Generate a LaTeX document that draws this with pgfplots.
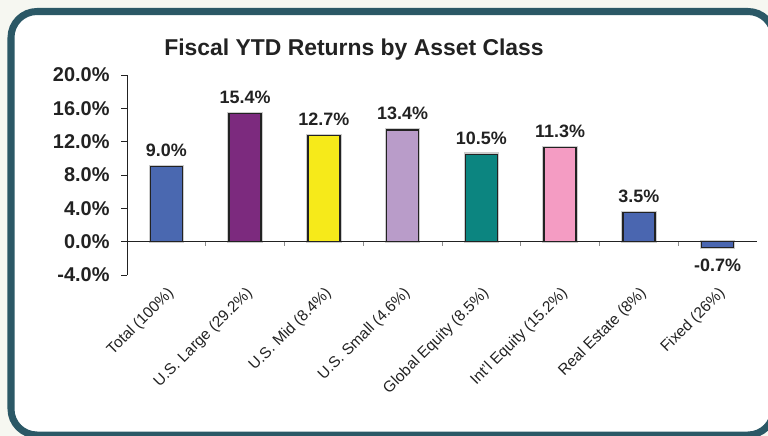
\documentclass[border=0pt]{standalone}
\usepackage{pgfplots}
\pgfplotsset{compat=1.18}
\usepackage{fontspec}
\setmainfont{Liberation Sans}
\definecolor{framec}{RGB}{43,88,102}
\definecolor{txt}{RGB}{34,34,34}
\definecolor{cTotal}{RGB}{74,104,176}
\definecolor{cLarge}{RGB}{124,42,126}
\definecolor{cMid}{RGB}{246,234,26}
\definecolor{cSmall}{RGB}{185,156,201}
\definecolor{cGlobal}{RGB}{12,133,128}
\definecolor{cIntl}{RGB}{244,156,195}
\definecolor{cReal}{RGB}{74,102,176}
\definecolor{bg}{RGB}{246,247,241}
\pgfplotsset{
  mybar/.style={fill=#1, draw=txt, line width=1.3bp,
    preaction={draw=black!20, line width=3.6bp}},
}

\begin{document}
\begin{tikzpicture}
\begin{scope}[x=1bp,y=-1bp]
  \fill[bg] (0,0) rectangle (768,436);
  \begin{scope}
    \clip (0,0) rectangle (768,436);
    \draw[framec, line width=7bp, fill=white, rounded corners=26bp] (11,11.5) rectangle (774,435);
  \end{scope}
  \node[font=\fontsize{23}{27}\selectfont\bfseries, text=txt, anchor=base] at (354,55) {Fiscal YTD Returns by Asset Class};
\end{scope}

\begin{axis}[
  at={(127bp,-275bp)}, anchor=south west,
  scale only axis, width=630bp, height=200bp,
  xmin=-0.5, xmax=7.5, ymin=-4, ymax=20,
  axis y line*=left, axis x line*=bottom,
  x axis line style={draw=none},
  y axis line style={txt, line width=0.8bp},
  ytick={-4,0,4,8,12,16,20},
  ytick style={txt, line width=0.8bp},
  tick align=outside, major tick length=6bp,
  /pgf/number format/assume math mode=true,
  yticklabel={\pgfmathprintnumber[fixed,fixed zerofill,precision=1]{\tick}\%},
  yticklabel style={font=\fontsize{20}{24}\selectfont\bfseries, text=txt, xshift=-8bp},
  xtick={0,...,7},
  xticklabels={Total (100\%), U.S. Large (29.2\%), U.S. Mid (8.4\%), U.S. Small (4.6\%), Global Equity (8.5\%), Int'l Equity (15.2\%), Real Estate (8\%), Fixed (26\%)},
  x tick style={draw=none},
  xticklabel style={rotate=45, anchor=north east, font=\fontsize{15.5}{18}\selectfont, text=txt},
  ybar, bar width=32bp, bar shift=0pt,
  nodes near coords={\pgfmathprintnumber[fixed,fixed zerofill,precision=1]{\pgfplotspointmeta}\%},
  every node near coord/.append style={font=\fontsize{18}{22}\selectfont\bfseries, text=txt, yshift=6bp},
  clip=false,
]
\addplot[mybar=cTotal] coordinates {(0,9.0)};
\addplot[mybar=cLarge] coordinates {(1,15.4)};
\addplot[mybar=cMid] coordinates {(2,12.7)};
\addplot[mybar=cSmall] coordinates {(3,13.4)};
\addplot[mybar=cGlobal] coordinates {(4,10.5)};
\addplot[mybar=cIntl] coordinates {(5,11.3)};
\addplot[mybar=cReal] coordinates {(6,3.5)};
\addplot[mybar=cReal,
  every node near coord/.style={font=\fontsize{18}{22}\selectfont\bfseries, text=txt, anchor=north, yshift=-8bp}] coordinates {(7,-0.7)};
\draw[txt, line width=0.8bp] (axis cs:-0.5,0) -- (axis cs:7.5,0);
\pgfplotsinvokeforeach{0.5,1.5,2.5,3.5,4.5,5.5,6.5}{
  \draw[black!45, line width=0.8bp] (axis cs:#1,0) -- ([yshift=-4bp]axis cs:#1,0);
}
\end{axis}
\pgfresetboundingbox
\useasboundingbox (0,0) rectangle (768bp,-436bp);
\end{tikzpicture}
\end{document}
